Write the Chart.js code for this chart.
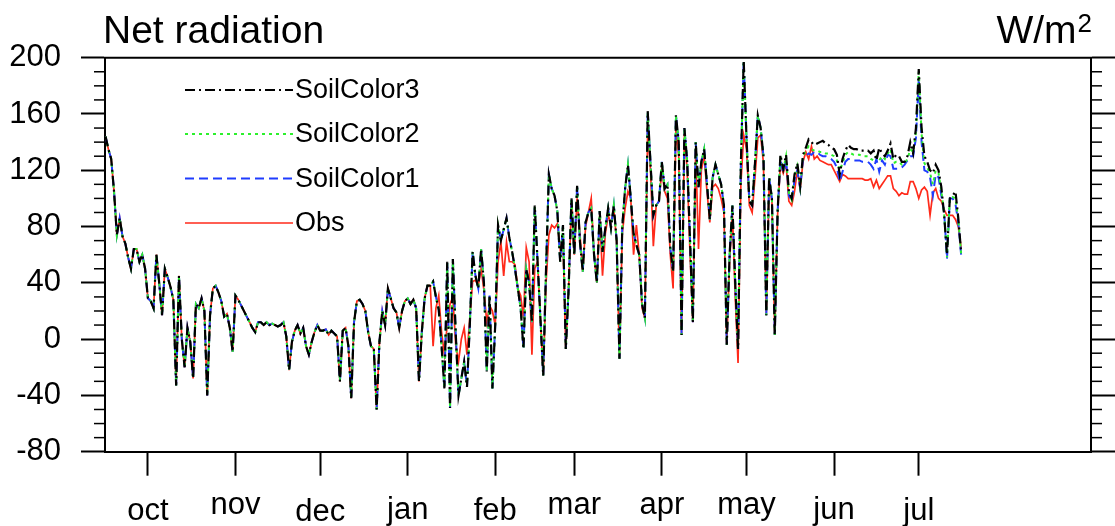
<!DOCTYPE html>
<html><head><meta charset="utf-8">
<script src="https://cdn.jsdelivr.net/npm/chart.js@4.4.1/dist/chart.umd.min.js"></script>
<style>html,body{margin:0;padding:0;background:#fff;}#wrap{width:1115px;height:526px;position:relative;}</style>
</head><body><div id="wrap"><canvas id="c" width="1115" height="526"></canvas></div>
<script>
// Days are counted from 1 October (day 0); first value is 16 September.
const firstDay = -15;
const monthStarts = [0, 31, 61, 92, 123, 151, 182, 212, 243, 273];
const monthLabels = ['oct', 'nov', 'dec', 'jan', 'feb', 'mar', 'apr', 'may', 'jun', 'jul'];
const yTicks = [-80, -40, 0, 40, 80, 120, 160, 200];
const seriesNames = ['SoilColor3', 'SoilColor2', 'SoilColor1', 'Obs'];

const soilColor3 = [
144,135,128,105,74,86,73,68,58,50,64,64,55,60,50,
29,27,22,60,40,17,50,44,37,28,
-33,45,0,-20,8,-2,-28,25,22,29,
20,-40,17,36,38,33,27,16,18,8,
-9,31,28,24,20,16,12,8,5,12,
12,10,12,10,11,10,9,10,12,2,
-22,-2,6,10,4,8,-5,-11,-2,5,
10,6,6,7,3,6,4,2,-30,6,
8,-5,-42,12,27,28,25,20,5,-5,
-7,-50,-2,20,10,36,29,22,19,8,
20,27,29,25,28,22,-30,5,29,38,
38,41,30,21,-5,-35,55,-49,57,5,
-40,-28,-16,-34,10,62,45,36,64,40,
-23,31,-35,10,81,70,78,86,72,62,
50,36,22,-7,50,40,12,95,55,15,
-26,50,117,107,102,91,55,81,-7,36,
100,60,109,69,48,83,90,93,60,40,
91,62,79,93,79,95,70,-14,80,107,
124,100,75,67,60,25,15,162,125,88,
95,98,126,107,110,65,48,159,140,3,
150,126,70,12,140,108,126,135,110,85,
115,124,117,110,95,-4,60,95,40,-7,
125,198,143,98,95,125,159,150,130,17,
115,100,3,90,131,121,131,105,100,117,
125,109,131,136,142,140,138,139,140,141,
139,138,136,135,131,117,128,134,138,136,
135,135,134,134,134,134,132,134,127,136,
132,130,134,139,128,131,130,126,126,130,
140,132,150,192,150,130,126,120,118,124,
120,108,88,60,100,102,105,86,62];

const soilColor2 = [
144,135,128,105,74,86,73,68,58,50,64,64,55,60,50,
29,27,22,60,40,17,50,44,37,28,
-33,45,0,-20,8,-2,-28,25,22,29,
20,-40,17,36,38,33,27,16,18,8,
-9,31,28,24,20,16,12,8,5,12,
12,10,12,10,11,10,9,10,12,2,
-22,-2,6,10,4,8,-5,-11,-2,5,
10,6,6,7,3,6,4,2,-30,6,
8,-5,-42,12,27,28,25,20,5,-5,
-7,-50,-2,20,10,36,29,22,19,8,
20,27,29,25,28,22,-30,5,29,38,
38,41,30,21,-5,-35,55,-49,57,5,
-40,-28,-16,-34,10,62,45,36,64,40,
-23,31,-35,10,81,70,78,86,72,62,
50,36,22,-7,50,40,12,95,55,15,
-26,50,117,107,102,91,55,81,-7,36,
100,60,109,69,48,83,90,93,60,40,
91,62,79,93,79,95,70,-14,80,107,
124,100,75,67,60,25,15,162,125,88,
95,98,126,107,110,65,48,159,140,3,
150,126,70,12,140,108,126,135,110,85,
115,124,117,110,95,-4,60,95,40,-7,
125,198,143,98,95,125,159,150,130,17,
115,100,3,90,130,120,130,104,99,116,
123,108,130,134,137,135,134,134,133,133,
132,132,131,130,127,120,125,131,133,132,
131,131,131,130,130,130,128,127,130,127,
130,128,132,135,125,126,126,124,125,128,
135,133,147,190,146,125,122,118,110,120,
118,105,89,58,100,101,100,85,61];

const soilColor1 = [
144,135,128,105,74,86,73,68,58,50,64,64,55,60,50,
29,27,22,60,40,17,50,44,37,28,
-33,45,0,-20,8,-2,-28,25,22,29,
20,-40,17,36,38,33,27,16,18,8,
-9,31,28,24,20,16,12,8,5,12,
12,10,12,10,11,10,9,10,12,2,
-22,-2,6,10,4,8,-5,-11,-2,5,
10,6,6,7,3,6,4,2,-30,6,
8,-5,-42,12,27,28,25,20,5,-5,
-7,-50,-2,20,10,36,29,22,19,8,
20,27,29,25,28,22,-30,5,29,38,
38,41,30,21,-5,-35,55,-49,57,5,
-40,-28,-16,-34,10,62,45,36,64,40,
-23,31,-35,10,81,70,78,86,72,62,
50,36,22,-7,50,40,12,95,55,15,
-26,50,117,107,102,91,55,81,-7,36,
100,60,109,69,48,83,90,93,60,40,
91,62,79,93,79,95,70,-14,80,107,
124,100,75,67,60,25,15,162,125,88,
95,98,126,107,110,65,48,159,140,3,
150,126,70,12,140,108,126,135,110,85,
115,124,117,110,95,-4,60,95,40,-7,
125,198,143,98,95,125,159,150,130,17,
115,100,3,90,128,118,128,102,98,113,
120,107,128,130,132,131,133,133,131,130,
130,129,128,126,122,112,119,126,128,128,
127,127,127,126,126,126,124,121,128,119,
127,124,131,130,121,121,121,122,124,127,
130,130,143,185,140,120,119,115,102,117,
115,102,90,57,100,100,96,83,60];

const obs = [
144,135,128,105,74,86,73,68,58,50,64,64,55,60,50,
29,27,22,60,40,17,50,44,37,28,
-33,45,0,-20,8,-2,-28,25,22,29,
20,-40,17,36,38,33,27,16,18,8,
-9,31,28,24,20,16,12,8,5,12,
12,10,12,10,11,10,9,10,12,2,
-22,-2,6,10,4,8,-5,-11,-2,5,
10,6,6,7,3,6,4,2,-30,6,
8,-5,-42,12,27,28,25,20,5,-5,
-7,-50,-2,20,10,36,29,22,19,8,
20,27,29,25,28,22,-30,5,29,38,
38,-5,22,31,5,-11,10,25,30,-4,
-16,0,8,-11,15,41,42,38,50,35,
12,24,20,10,55,69,45,69,55,55,
53,36,31,15,65,55,-11,50,55,15,
-26,40,74,81,79,82,64,70,-7,36,
98,60,100,75,48,80,90,100,60,40,
88,45,75,88,82,92,70,-14,75,93,
105,100,60,81,60,22,15,150,120,66,
95,98,120,105,100,60,36,150,130,3,
145,120,60,12,135,64,120,130,105,83,
108,110,107,100,90,-4,55,90,30,-17,
110,145,135,95,90,115,143,145,125,17,
110,98,3,88,125,118,125,98,95,105,
120,107,126,133,128,137,128,130,127,126,
125,124,124,120,116,112,117,116,114,114,
114,114,114,114,113,113,114,108,113,107,
110,113,116,116,107,105,102,104,103,103,
112,112,107,100,106,108,105,88,104,107,
100,98,92,88,88,88,85,80,65];

const FONT = "'Liberation Sans', Arial, Helvetica, sans-serif";
const toPts = arr => arr.map((v, i) => ({x: firstDay + i, y: v}));

const styles = {
  SoilColor3: {color: '#000000', dash: [10, 4, 2, 4], width: 2.2},
  SoilColor2: {color: '#2cf02c', dash: [3, 4], width: 2},
  SoilColor1: {color: '#1f3cff', dash: [9, 5], width: 2},
  Obs: {color: '#ff2a1a', dash: [], width: 1.7}
};
const seriesData = {SoilColor3: soilColor3, SoilColor2: soilColor2, SoilColor1: soilColor1, Obs: obs};

const datasets = seriesNames.map((n, k) => ({
  label: n,
  data: toPts(seriesData[n]),
  borderColor: styles[n].color,
  borderDash: styles[n].dash,
  borderWidth: styles[n].width,
  pointRadius: 0,
  fill: false,
  tension: 0,
  order: k + 1
}));

const decor = {
  id: 'decor',
  afterDraw(chart) {
    const ctx = chart.ctx, a = chart.chartArea;
    const xs = chart.scales.x, ys = chart.scales.y;
    ctx.save();
    ctx.strokeStyle = '#000';
    ctx.lineWidth = 2;
    ctx.setLineDash([]);
    // frame top
    ctx.beginPath(); ctx.moveTo(a.left - 1, a.top); ctx.lineTo(a.right + 1, a.top); ctx.stroke();
    // minor ticks
    ctx.lineWidth = 1.5;
    for (let v = -80; v <= 200; v += 10) {
      if (v % 40 === 0) continue;
      const y = ys.getPixelForValue(v);
      ctx.beginPath(); ctx.moveTo(a.left - 11, y); ctx.lineTo(a.left, y); ctx.stroke();
      ctx.beginPath(); ctx.moveTo(a.right, y); ctx.lineTo(a.right + 11, y); ctx.stroke();
    }
    // month labels (top of ink aligned like the original)
    ctx.fillStyle = '#000';
    ctx.font = '31px ' + FONT;
    ctx.textAlign = 'center';
    ctx.textBaseline = 'alphabetic';
    const base = {oct: 520, nov: 514, dec: 521, jan: 519, feb: 520, mar: 514, apr: 514, may: 514, jun: 519, jul: 520};
    monthStarts.forEach((m, i) => {
      ctx.fillText(monthLabels[i], xs.getPixelForValue(m), base[monthLabels[i]]);
    });
    // title and units
    ctx.textAlign = 'left';
    ctx.font = '39px ' + FONT;
    ctx.fillText('Net radiation', 103, 43);
    const unit = 'W/m';
    ctx.font = '26px ' + FONT;
    const w2 = ctx.measureText('2').width;
    ctx.font = '39px ' + FONT;
    const wu = ctx.measureText(unit).width;
    const ux = 1091 - w2 - wu;
    ctx.fillText(unit, ux, 43);
    ctx.font = '26px ' + FONT;
    ctx.fillText('2', ux + wu + 1, 32);
    // legend
    const ly = [90, 134, 178.5, 223];
    ctx.font = '27px ' + FONT;
    ctx.textBaseline = 'middle';
    seriesNames.forEach((n, i) => {
      const s = styles[n];
      ctx.strokeStyle = s.color;
      ctx.lineWidth = s.width;
      ctx.setLineDash(s.dash);
      ctx.beginPath(); ctx.moveTo(185, ly[i]); ctx.lineTo(293, ly[i]); ctx.stroke();
      ctx.fillStyle = '#000';
      ctx.fillText(n, 295, ly[i] + 1);
    });
    ctx.restore();
  }
};

new Chart(document.getElementById('c'), {
  type: 'line',
  data: {datasets},
  plugins: [decor],
  options: {
    responsive: false,
    animation: false,
    devicePixelRatio: 1,
    parsing: false,
    layout: {padding: {left: 0, top: 57.7, right: 0, bottom: 0}},
    plugins: {legend: {display: false}, tooltip: {enabled: false}},
    scales: {
      x: {
        type: 'linear', position: 'bottom', min: -15.2, max: 334,
        afterBuildTicks: s => { s.ticks = monthStarts.map(v => ({value: v})); },
        afterFit: s => { s.height = 74.3; },
        ticks: {display: false},
        grid: {drawOnChartArea: false, drawTicks: true, tickLength: 24, tickWidth: 2, tickColor: '#000', color: '#000'},
        border: {display: true, color: '#000', width: 2}
      },
      y: {
        type: 'linear', position: 'left', min: -80, max: 200,
        afterBuildTicks: s => { s.ticks = yTicks.map(v => ({value: v})); },
        afterFit: s => { s.width = 105; },
        ticks: {color: '#000', font: {family: FONT, size: 31}, padding: 20},
        grid: {drawOnChartArea: false, drawTicks: true, tickLength: 24, tickWidth: 2, tickColor: '#000', color: '#000'},
        border: {display: true, color: '#000', width: 2}
      },
      y2: {
        type: 'linear', position: 'right', min: -80, max: 200,
        afterBuildTicks: s => { s.ticks = yTicks.map(v => ({value: v})); },
        afterFit: s => { s.width = 24; },
        ticks: {display: false},
        grid: {drawOnChartArea: false, drawTicks: true, tickLength: 24, tickWidth: 2, tickColor: '#000', color: '#000'},
        border: {display: true, color: '#000', width: 2}
      }
    }
  }
});
</script></body></html>
